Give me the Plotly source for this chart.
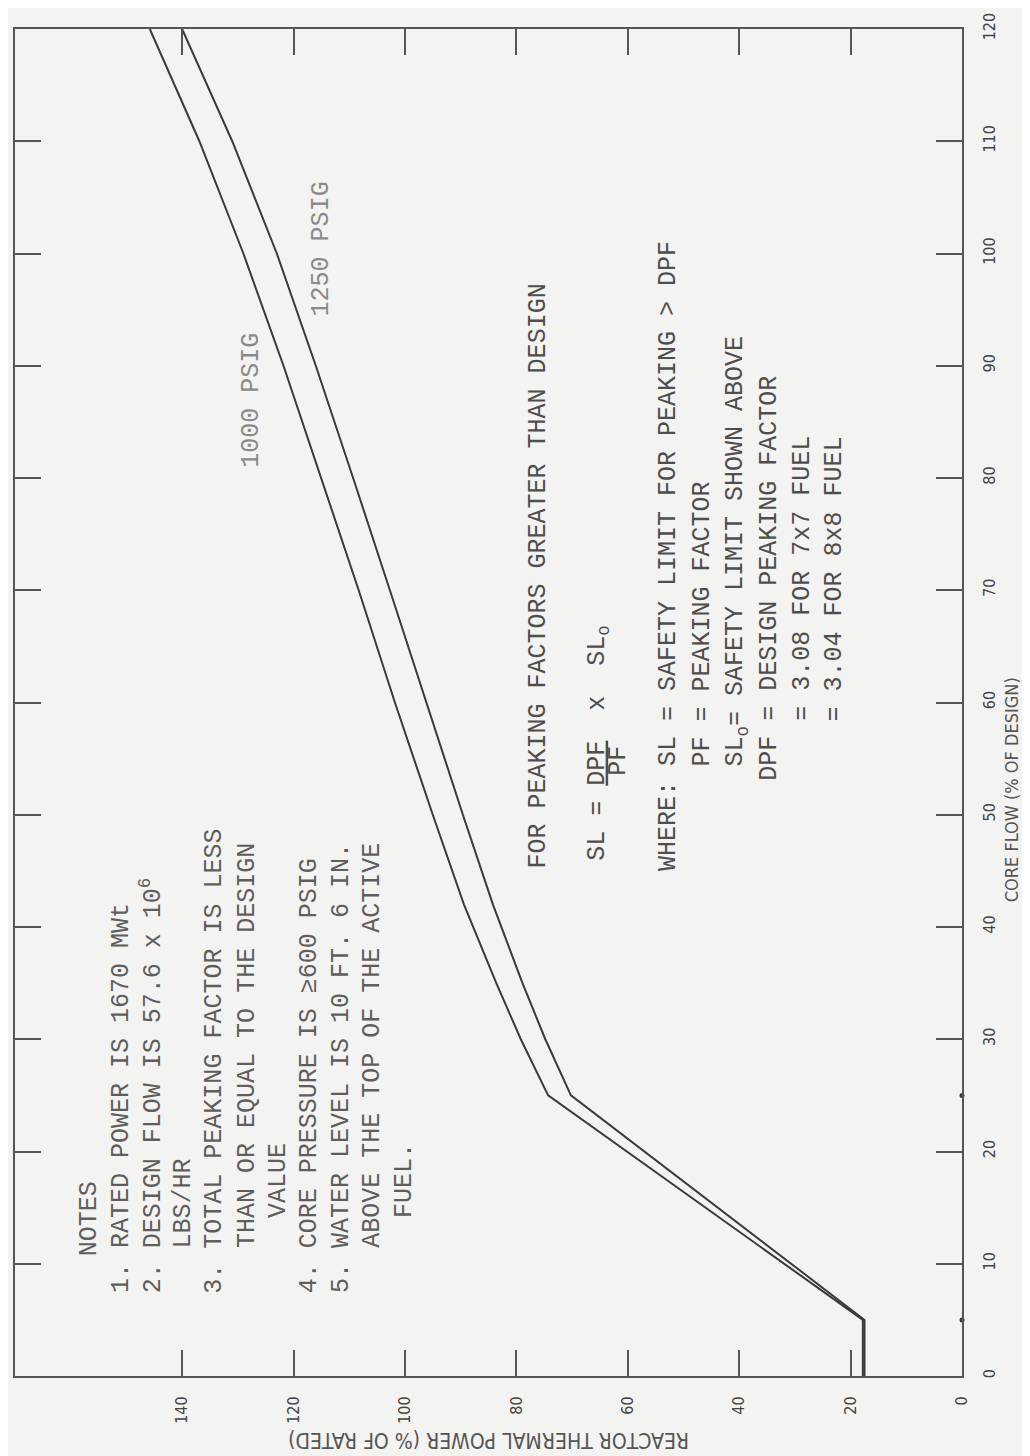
import plotly.graph_objects as go

# ---------------- data ----------------
flow_1000 = [0, 5, 25, 30, 35, 42, 50, 60, 70, 80, 90, 100, 110, 120]
power_1000 = [17.8, 17.8, 74.3, 79.2, 83.6, 89.4, 95.0, 101.8, 108.3, 115.0,
              121.8, 129.0, 136.9, 145.8]

flow_1250 = [0, 5, 25, 30, 35, 42, 50, 60, 70, 80, 90, 100, 110, 120]
power_1250 = [17.5, 17.5, 70.2, 74.8, 78.9, 84.2, 89.6, 96.1, 102.7, 109.3,
              116.0, 123.0, 131.0, 140.0]

power_ticks = [0, 20, 40, 60, 80, 100, 120, 140]
flow_ticks = [0, 10, 20, 30, 40, 50, 60, 70, 80, 90, 100, 110, 120]
flow_dots = [5, 25]

notes_lines = [
    "1. RATED POWER IS 1670 MWt",
    "2. DESIGN FLOW IS 57.6 x 10<sup>6</sup>",
    "   LBS/HR",
    "3. TOTAL PEAKING FACTOR IS LESS",
    "   THAN OR EQUAL TO THE DESIGN",
    "     VALUE",
    "4. CORE PRESSURE IS \u2265600 PSIG",
    "5. WATER LEVEL IS 10 FT. 6 IN.",
    "   ABOVE THE TOP OF THE ACTIVE",
    "     FUEL.",
]
where_lines = [
    "WHERE: SL = SAFETY LIMIT FOR PEAKING > DPF",
    "       PF = PEAKING FACTOR",
    "       SL<sub>o</sub>= SAFETY LIMIT SHOWN ABOVE",
    "      DPF = DESIGN PEAKING FACTOR",
    "          = 3.08 FOR 7x7 FUEL",
    "          = 3.04 FOR 8x8 FUEL",
]

BG = "#f3f3f1"
INK = "#3a3a3a"
TXT = "#5e5e5e"
MONO = "Liberation Mono, Courier New, monospace"
SANS = "DejaVu Sans Condensed, DejaVu Sans, sans-serif"

fig = go.Figure()
fig.add_trace(go.Scatter(x=power_1000, y=flow_1000, mode="lines",
                         line=dict(color=INK, width=2),
                         name="1000 PSIG", showlegend=False))
fig.add_trace(go.Scatter(x=power_1250, y=flow_1250, mode="lines",
                         line=dict(color=INK, width=2),
                         name="1250 PSIG", showlegend=False))
fig.add_trace(go.Scatter(x=[0] * len(flow_dots), y=flow_dots, mode="markers",
                         marker=dict(color=INK, size=5), cliponaxis=False,
                         showlegend=False))

fig.update_layout(
    width=1022, height=1448,
    margin=dict(l=5, r=68, t=13, b=80),
    paper_bgcolor=BG, plot_bgcolor=BG,
    showlegend=False,
    xaxis=dict(range=[170, 0], tickvals=power_ticks, ticks="inside", ticklen=26,
               tickwidth=1.5, tickcolor="#555", showline=True, linecolor="#555",
               linewidth=2, mirror="ticks", showgrid=False, zeroline=False,
               tickangle=-90, ticklabelstandoff=12, ticklabeloverflow="allow",
               tickfont=dict(family=SANS, size=16, color="#444")),
    yaxis=dict(range=[0, 120], tickvals=flow_ticks, side="right", ticks="inside",
               ticklen=26, tickwidth=1.5, tickcolor="#555", showline=True,
               linecolor="#555", linewidth=2, mirror="ticks", showgrid=False,
               zeroline=False, tickangle=-90, ticklabelstandoff=12,
               ticklabeloverflow="allow",
               tickfont=dict(family=SANS, size=16, color="#444")),
)

def note(text, x, y, color=TXT, size=25, anchor="bottom", family=MONO):
    fig.add_annotation(x=x, y=y, xref="x", yref="y", text=text, showarrow=False,
                       textangle=-90, xanchor="center", yanchor=anchor,
                       font=dict(family=family, size=size, color=color))

# notes block
note("NOTES", 156.6, 10.5)
notes_x = [151.0, 145.4, 139.7, 134.1, 128.4, 122.8, 117.1, 111.5, 105.8, 100.2]
for t, xx in zip(notes_lines, notes_x):
    note(t.replace(" ", "\u00a0"), xx, 7.2)

# formula block
note("FOR PEAKING FACTORS GREATER THAN DESIGN", 76.1, 45.0, color="#4e4e4e")
note("SL\u00a0=\u00a0<u>DPF</u>\u00a0\u00a0x\u00a0\u00a0SL<sub>o</sub>", 65.4, 45.7, color="#4e4e4e")
note("PF", 61.6, 54.8, color="#4e4e4e", anchor="middle")
where_x = [52.8, 46.6, 40.5, 34.6, 28.7, 22.8]
for t, xx in zip(where_lines, where_x):
    note(t.replace(" ", "\u00a0"), xx, 44.8, color="#4e4e4e")

# curve labels
note("1000 PSIG", 127.6, 86.9, color="#8a8a8a", anchor="middle")
note("1250 PSIG", 115.0, 100.4, color="#8a8a8a", anchor="middle")

# axis titles
fig.add_annotation(x=1.052, y=0.435, xref="paper", yref="paper",
                   xanchor="center", yanchor="middle",
                   text="CORE FLOW (% OF DESIGN)", showarrow=False, textangle=-90,
                   font=dict(family=SANS, size=18, color="#555"))
fig.add_annotation(x=0.5, y=-0.048, xref="paper", yref="paper",
                   xanchor="center", yanchor="middle",
                   text="REACTOR THERMAL POWER (% OF RATED)", showarrow=False,
                   textangle=180, font=dict(family=SANS, size=21, color="#555"))

fig.write_html("out.html")
